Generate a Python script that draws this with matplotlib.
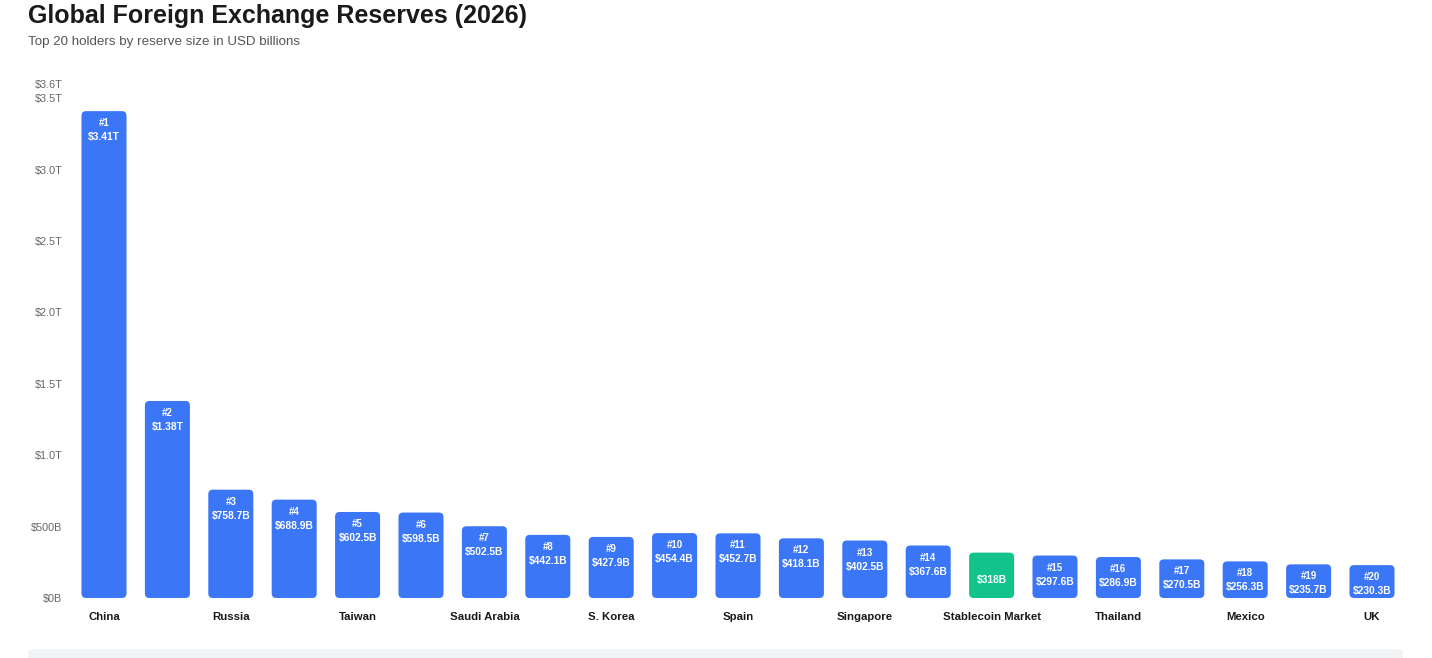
import matplotlib
matplotlib.use("Agg")
import matplotlib.pyplot as plt
from matplotlib.patches import FancyBboxPatch
from matplotlib.ticker import FixedLocator, FixedFormatter

plt.rcParams['font.family'] = ['Liberation Sans', 'DejaVu Sans']

# ---- data ----
categories = ["China", "Japan", "Russia", "Switzerland", "Taiwan", "India",
              "Saudi Arabia", "Hong Kong", "S. Korea", "Brazil", "Spain",
              "Germany", "Singapore", "Czech Republic", "Stablecoin Market",
              "Israel", "Thailand", "Poland", "Mexico", "France", "UK"]
values = [3410, 1380, 758.7, 688.9, 602.5, 598.5, 502.5, 442.1, 427.9, 454.4,
          452.7, 418.1, 402.5, 367.6, 318, 297.6, 286.9, 270.5, 256.3, 235.7, 230.3]
value_labels = ["$3.41T", "$1.38T", "$758.7B", "$688.9B", "$602.5B", "$598.5B",
                "$502.5B", "$442.1B", "$427.9B", "$454.4B", "$452.7B", "$418.1B",
                "$402.5B", "$367.6B", "$318B", "$297.6B", "$286.9B", "$270.5B",
                "$256.3B", "$235.7B", "$230.3B"]
ranks = ["#1", "#2", "#3", "#4", "#5", "#6", "#7", "#8", "#9", "#10", "#11",
         "#12", "#13", "#14", "", "#15", "#16", "#17", "#18", "#19", "#20"]
highlight = [False] * 14 + [True] + [False] * 6
shown_labels = ["China", "", "Russia", "", "Taiwan", "", "Saudi Arabia", "",
                "S. Korea", "", "Spain", "", "Singapore", "", "Stablecoin Market",
                "", "Thailand", "", "Mexico", "", "UK"]
ytick_values = [0, 500, 1000, 1500, 2000, 2500, 3000, 3500, 3600]
ytick_labels = ["$0B", "$500B", "$1.0T", "$1.5T", "$2.0T", "$2.5T", "$3.0T", "$3.5T", "$3.6T"]

BLUE = "#3b76f6"
GREEN = "#12c48b"

W, H, DPI = 14.32, 6.58, 100
fig = plt.figure(figsize=(W, H), dpi=DPI)
fig.patch.set_facecolor("white")

ax_l, ax_r = 72.3 / 1432, 1403.7 / 1432
ax_b, ax_t = 60 / 658, 574 / 658
ax = fig.add_axes([ax_l, ax_b, ax_r - ax_l, ax_t - ax_b])
ax.set_xlim(-0.5, len(categories) - 0.5)
ax.set_ylim(0, 3600)
for s in ax.spines.values():
    s.set_visible(False)

# pixel scales
px_per_x = (ax_r - ax_l) * W * DPI / len(categories)
px_per_y = (ax_t - ax_b) * H * DPI / 3600
r_px = 4.5
r_x = r_px / px_per_x
aspect = (r_px / px_per_y) / r_x

bw = 0.71
for i, v in enumerate(values):
    color = GREEN if highlight[i] else BLUE
    p = FancyBboxPatch((i - bw / 2, 0), bw, v,
                       boxstyle=f"round,pad=0,rounding_size={r_x}",
                       mutation_aspect=aspect, facecolor=color,
                       edgecolor="none")
    ax.add_patch(p)
    if ranks[i]:
        ax.annotate(ranks[i], (i, v), xytext=(0, -12 / 1.389), textcoords="offset points",
                    ha="center", va="center", color="white", fontsize=7,
                    fontweight="bold")
        ax.annotate(value_labels[i], (i, v), xytext=(0, -26 / 1.389), textcoords="offset points",
                    ha="center", va="center", color="white", fontsize=7.4,
                    fontweight="bold")
    else:
        ax.annotate(value_labels[i], (i, v), xytext=(0, -27 / 1.389), textcoords="offset points",
                    ha="center", va="center", color="white", fontsize=7.4,
                    fontweight="bold")

ax.set_xticks(range(len(categories)))
ax.set_xticklabels(shown_labels, fontsize=8.2, fontweight="bold", color="#1a1a1a")
ax.tick_params(axis="x", length=0, pad=10)
ax.yaxis.set_major_locator(FixedLocator(ytick_values))
ax.yaxis.set_major_formatter(FixedFormatter(ytick_labels))
ax.tick_params(axis="y", length=0, pad=7, labelsize=7.8, labelcolor="#666666")

fig.text(28 / 1432, 1 - 16 / 658, "Global Foreign Exchange Reserves (2026)",
         fontsize=18, fontweight="bold", color="#1a1a1a", ha="left", va="center")
fig.text(28 / 1432, 1 - 42 / 658, "Top 20 holders by reserve size in USD billions",
         fontsize=9.6, color="#555555", ha="left", va="center")

# gray panel at bottom
panel = FancyBboxPatch((28 / 1432, -0.02), (1403 - 28) / 1432, 9 / 658 + 0.02,
                       boxstyle="round,pad=0,rounding_size=0.006",
                       transform=fig.transFigure, facecolor="#f2f3f5",
                       edgecolor="none", zorder=0)
fig.patches.append(panel)

fig.savefig("out.png", dpi=DPI)
